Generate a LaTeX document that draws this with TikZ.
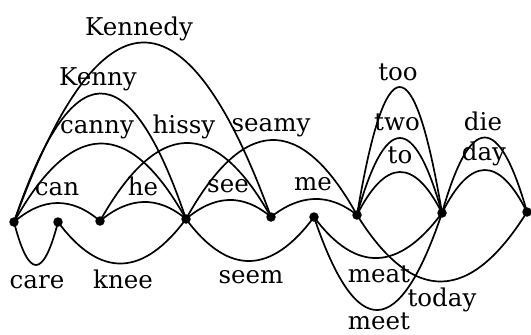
\documentclass[tikz,border=0pt]{standalone}
\usepackage{fontspec}
\setmainfont{DejaVu Serif}
\newcommand{\latarc}[4]{\draw[edge] (#1.center) .. controls +({#3/3},{-4*(#4)/3}) and +({-#3/3},{-4*(#4)/3}) .. (#2.center);}
\begin{document}
\begin{tikzpicture}[x=1pt,y=-1pt,
  dot/.style={circle,fill=black,inner sep=0pt,minimum size=9.5pt},
  edge/.style={line width=1.7pt},
  lab/.style={font=\fontsize{24.5}{24.5}\selectfont,anchor=base,inner sep=0pt}]
\useasboundingbox (0,0) rectangle (531,335);
% lattice nodes
\node[dot] (n0) at (14,222) {};
\node[dot] (n1) at (58,222) {};
\node[dot] (n2) at (100,221) {};
\node[dot] (n3) at (186,219) {};
\node[dot] (n4) at (271,217) {};
\node[dot] (n5) at (314,217) {};
\node[dot] (n6) at (357,215) {};
\node[dot] (n7) at (442,213) {};
\node[dot] (n8) at (527,212) {};
% arcs above
\latarc{n0}{n2}{86}{18.5}
\latarc{n2}{n3}{86}{18}
\latarc{n3}{n4}{85}{18}
\latarc{n4}{n6}{86}{17}
\latarc{n0}{n3}{172}{77}
\latarc{n0}{n3}{172}{127}
\latarc{n0}{n4}{257}{177}
\latarc{n2}{n4}{171}{76}
\latarc{n3}{n6}{171}{77}
\latarc{n6}{n7}{85}{42}
\latarc{n6}{n7}{85}{76}
\latarc{n6}{n7}{85}{127}
\latarc{n7}{n8}{85}{42.5}
\latarc{n7}{n8}{85}{75}
% arcs below
\latarc{n0}{n1}{44}{-43}
\latarc{n1}{n3}{128}{-43}
\latarc{n3}{n5}{128}{-43}
\latarc{n5}{n7}{128}{-43}
\latarc{n5}{n7}{128}{-95}
\latarc{n6}{n8}{170}{-68}
% labels
\node[lab] (lKennedy) at (139,35) {Kennedy};
\node[lab] (lKenny) at (98,85) {Kenny};
\node[lab] (lcanny) at (97,133) {canny};
\node[lab] (lhissy) at (184,133) {hissy};
\node[lab] (lseamy) at (271,131) {seamy};
\node[lab] (lcan) at (57,195) {can};
\node[lab] (lhe) at (143,195) {he};
\node[lab] (lsee) at (228,192) {see};
\node[lab] (lme) at (313,190) {me};
\node[lab] (ltoo) at (398,80) {too};
\node[lab] (ltwo) at (397,130) {two};
\node[lab] (lto) at (400,163) {to};
\node[lab] (ldie) at (483,130) {die};
\node[lab] (lday) at (484,160) {day};
\node[lab] (lcare) at (37,288) {care};
\node[lab] (lknee) at (123,288) {knee};
\node[lab] (lseem) at (251,283) {seem};
\node[lab] (lmeat) at (379,282) {meat};
\node[lab] (ltoday) at (442,306) {today};
\node[lab] (lmeet) at (379,329) {meet};
\end{tikzpicture}
\end{document}
